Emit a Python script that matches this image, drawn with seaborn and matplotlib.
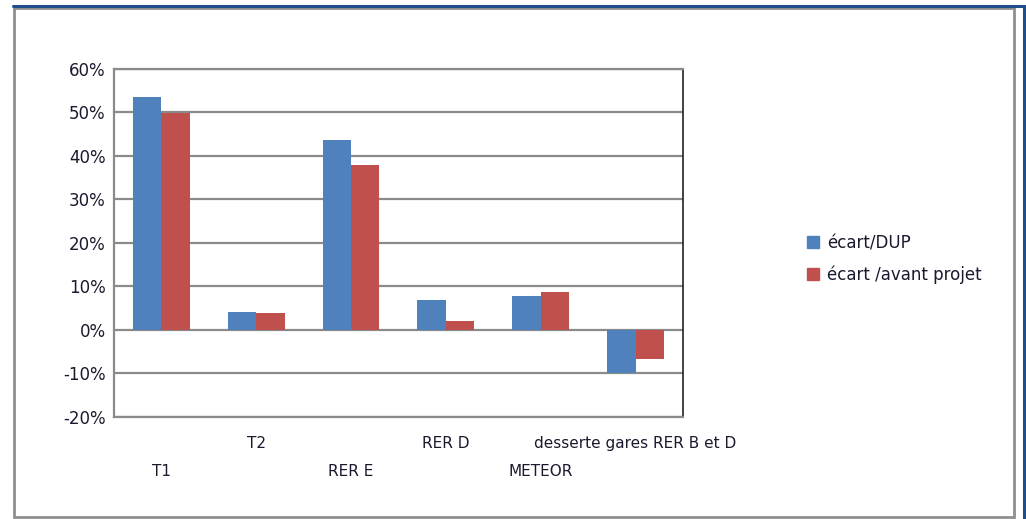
import matplotlib
matplotlib.use("Agg")
import matplotlib.pyplot as plt
import pandas as pd
import seaborn as sns
from matplotlib.patches import Rectangle
from matplotlib.lines import Line2D
from matplotlib.ticker import PercentFormatter

# Data
categories = ["T1", "T2", "RER E", "RER D", "METEOR", "desserte gares RER B et D"]
ecart_dup = [0.535, 0.042, 0.437, 0.069, 0.078, -0.100]
ecart_avant_projet = [0.498, 0.038, 0.380, 0.021, 0.087, -0.066]
series_names = ["écart/DUP", "écart /avant projet"]
colors = ["#4F81BD", "#C0504D"]

df = pd.DataFrame({
    "categorie": categories * 2,
    "valeur": ecart_dup + ecart_avant_projet,
    "serie": [series_names[0]] * len(categories) + [series_names[1]] * len(categories),
})

sns.set_style("white")
plt.rcParams["font.family"] = ["DejaVu Sans"]
plt.rcParams["axes.unicode_minus"] = False

fig = plt.figure(figsize=(10.26, 5.19), dpi=100)
ax = fig.add_axes([0.111, 0.197, 0.5547, 0.670])

# Draw grouped bars
sns.barplot(data=df, x="categorie", y="valeur", hue="serie", palette=colors,
            width=0.6, gap=0, saturation=1, linewidth=0, ax=ax, legend=False)

# Y axis as percentages
ax.set_ylim(-0.2, 0.6)
ax.set_xlim(-0.5, len(categories) - 0.5)
ax.set_yticks([i / 10 for i in range(-2, 7)])
ax.yaxis.set_major_formatter(PercentFormatter(1.0, decimals=0))
ax.set_axisbelow(True)
ax.grid(axis="y", color="#8a8a8a", linewidth=1.6)
ax.set_xlabel("")
ax.set_ylabel("")

# Spines
for side in ["left", "top", "bottom"]:
    ax.spines[side].set_color("#8a8a8a")
    ax.spines[side].set_linewidth(1.6)
ax.spines["right"].set_color("#222222")
ax.spines["right"].set_linewidth(1.2)

ax.tick_params(axis="both", length=0, labelsize=12, labelcolor="#1a1a2e")
ax.tick_params(axis="y", pad=6)

# Staggered category labels
ax.set_xticks(range(len(categories)))
ax.set_xticklabels(categories, fontsize=11)
for i, tick in enumerate(ax.xaxis.get_major_ticks()):
    tick.set_pad(34 if i % 2 == 0 else 14)

# Legend
handles = [Line2D([0], [0], marker="s", linestyle="", markersize=9,
                  markerfacecolor=c, markeredgecolor=c) for c in colors]
leg = fig.legend(handles, series_names, loc="center left", bbox_to_anchor=(0.770, 0.501),
                 frameon=False, fontsize=12, handletextpad=0.3, labelspacing=0.8,
                 handlelength=1.0)
for t in leg.get_texts():
    t.set_color("#1a1a2e")

# Outer frame
fig.patches.append(Rectangle((0.0136, 0.0039), 0.9747, 0.9807, transform=fig.transFigure,
                             fill=False, edgecolor="#8f8f8f", linewidth=2.0))
fig.add_artist(Line2D([0.0127, 1.0], [0.988, 0.988], transform=fig.transFigure,
                      color="#1f4e8c", linewidth=2.2))
fig.add_artist(Line2D([0.998, 0.998], [0.0, 0.989], transform=fig.transFigure,
                      color="#1f4e8c", linewidth=2.2))

fig.savefig("out.png", dpi=100)
